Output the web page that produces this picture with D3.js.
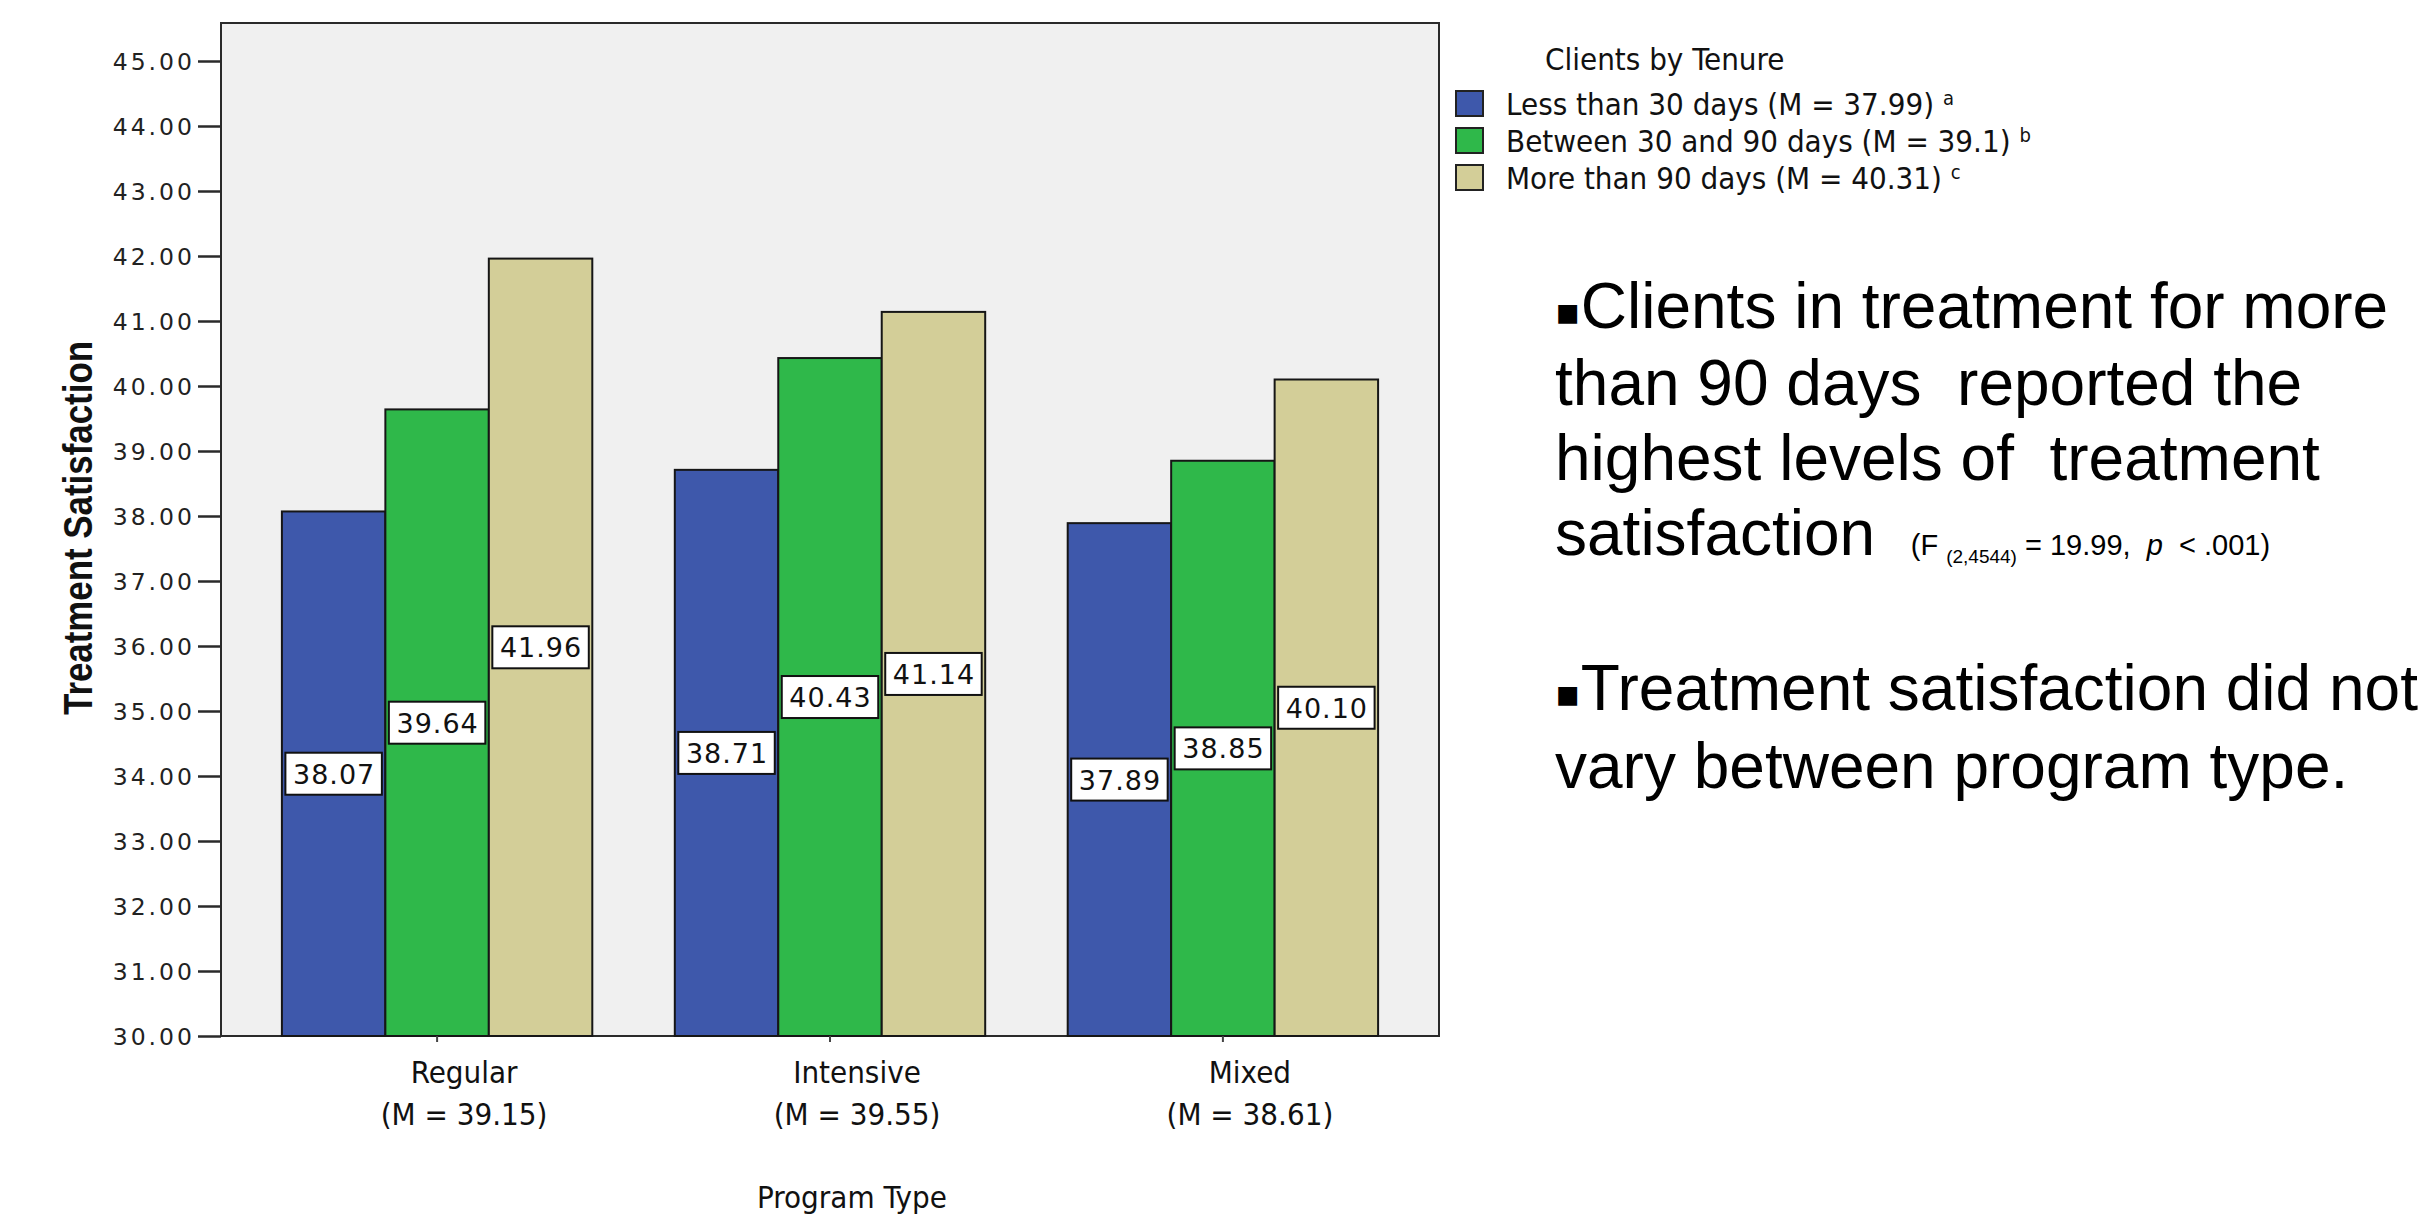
<!DOCTYPE html>
<html>
<head>
<meta charset="utf-8">
<script src="https://cdn.jsdelivr.net/npm/d3@7"></script>
<style>
  html, body { margin: 0; padding: 0; background: #ffffff; }
  svg { display: block; }
  .cond { font-family: "DejaVu Sans Condensed", "DejaVu Sans", sans-serif; font-stretch: condensed; }
</style>
</head>
<body>
<svg id="chart" width="2426" height="1219"></svg>
<script>
// Program types on the x axis, with their overall means
const categories = ["Regular", "Intensive", "Mixed"];
const categoryMeans = ["(M = 39.15)", "(M = 39.55)", "(M = 38.61)"];

// Tenure groups (one bar per group inside each program type)
const seriesKeys = ["lt30", "b30to90", "gt90"];
const seriesNames = ["Less than 30 days (M = 37.99)", "Between 30 and 90 days (M = 39.1)", "More than 90 days (M = 40.31)"];
const seriesMarks = ["a", "b", "c"];
const seriesColors = ["#3e58ab", "#2fb84a", "#d3ce98"];

// Mean treatment satisfaction per program type
const lessThan30 = [38.07, 38.71, 37.89];
const between30and90 = [39.64, 40.43, 38.85];
const moreThan90 = [41.96, 41.14, 40.10];

// Y axis tick values
const yTickValues = [30, 31, 32, 33, 34, 35, 36, 37, 38, 39, 40, 41, 42, 43, 44, 45];

const seriesValues = [lessThan30, between30and90, moreThan90];
const rows = categories.map((c, i) => ({
  category: c,
  mean: categoryMeans[i],
  bars: seriesKeys.map((k, s) => ({ key: k, value: seriesValues[s][i], color: seriesColors[s] }))
}));

const svg = d3.select("#chart");

const plot = { left: 221, right: 1439, top: 23, bottom: 1036 };

const x0 = d3.scaleBand()
  .domain(categories)
  .range([plot.left, plot.right])
  .paddingInner(0.21)
  .paddingOuter(0.155);

const x1 = d3.scaleBand()
  .domain(seriesKeys)
  .range([0, x0.bandwidth()]);

const y = d3.scaleLinear()
  .domain([30, 45])
  .range([plot.bottom, 61]);

// Plot background and frame
svg.append("rect")
  .attr("x", plot.left).attr("y", plot.top)
  .attr("width", plot.right - plot.left).attr("height", plot.bottom - plot.top)
  .attr("fill", "#f0f0f0")
  .attr("stroke", "#2a2a2a").attr("stroke-width", 2);

// Bars
const groups = svg.append("g").selectAll("g")
  .data(rows)
  .join("g")
  .attr("transform", d => `translate(${x0(d.category)},0)`);

groups.selectAll("rect.bar")
  .data(d => d.bars)
  .join("rect")
  .attr("class", "bar")
  .attr("x", d => x1(d.key))
  .attr("y", d => y(d.value))
  .attr("width", x1.bandwidth())
  .attr("height", d => y(30) - y(d.value))
  .attr("fill", d => d.color)
  .attr("stroke", "#161616")
  .attr("stroke-width", 2);

// Value labels, boxed, halfway up each bar
const labelH = 42;
const labelInset = 3.5;
const labels = groups.selectAll("g.vlabel")
  .data(d => d.bars)
  .join("g")
  .attr("class", "vlabel")
  .attr("transform", d => `translate(${x1(d.key) + x1.bandwidth() / 2},${(y(d.value) + y(30)) / 2})`);

labels.append("rect")
  .attr("x", -(x1.bandwidth() / 2 - labelInset))
  .attr("y", -labelH / 2)
  .attr("width", x1.bandwidth() - 2 * labelInset)
  .attr("height", labelH)
  .attr("fill", "#ffffff")
  .attr("stroke", "#111111")
  .attr("stroke-width", 2);

labels.append("text")
  .attr("x", 0.5)
  .attr("y", 10)
  .attr("text-anchor", "middle")
  .attr("font-family", "DejaVu Sans, sans-serif")
  .attr("font-size", 27)
  .attr("letter-spacing", 1)
  .attr("fill", "#111")
  .text(d => d3.format(".2f")(d.value));

// Y axis
const yAxis = svg.append("g")
  .attr("transform", `translate(${plot.left},0)`)
  .call(d3.axisLeft(y).tickValues(yTickValues).tickFormat(d3.format(".2f")).tickSize(23).tickPadding(3));
yAxis.select(".domain").attr("stroke", "#2a2a2a").attr("stroke-width", 2)
  .attr("d", `M0,${plot.top}V${plot.bottom}`);
yAxis.selectAll(".tick line").attr("stroke", "#2a2a2a").attr("stroke-width", 2.5);
yAxis.selectAll(".tick text")
  .attr("font-family", "DejaVu Sans, sans-serif")
  .attr("font-size", 23.5)
  .attr("letter-spacing", 3)
  .attr("fill", "#222")
  .attr("dy", "0.36em");

// X axis category ticks and labels
const labelShift = 27;
const xTicks = svg.append("g").selectAll("g")
  .data(rows)
  .join("g")
  .attr("transform", d => `translate(${x0(d.category) + x0.bandwidth() / 2},${plot.bottom})`);

xTicks.append("line")
  .attr("y1", 0).attr("y2", 6)
  .attr("stroke", "#444").attr("stroke-width", 2);

xTicks.append("text")
  .attr("class", "cond")
  .attr("x", labelShift).attr("y", 47)
  .attr("text-anchor", "middle")
  .attr("font-size", 31)
  .attr("fill", "#111")
  .text(d => d.category);

xTicks.append("text")
  .attr("class", "cond")
  .attr("x", labelShift).attr("y", 89)
  .attr("text-anchor", "middle")
  .attr("font-size", 31)
  .attr("fill", "#111")
  .text(d => d.mean);

// Axis titles
svg.append("text")
  .attr("class", "cond")
  .attr("x", (plot.left + plot.right) / 2 + 22)
  .attr("y", 1208)
  .attr("text-anchor", "middle")
  .attr("font-size", 31)
  .attr("fill", "#111")
  .text("Program Type");

svg.append("text")
  .attr("transform", "translate(92,528) rotate(-90) scale(0.872,1)")
  .attr("text-anchor", "middle")
  .attr("font-family", "Liberation Sans, Arial, sans-serif")
  .attr("font-weight", "bold")
  .attr("font-size", 40)
  .attr("fill", "#111")
  .text("Treatment Satisfaction");

// Legend
const legendPitch = 37;
const legend = svg.append("g").attr("transform", "translate(1455,0)");
legend.append("text")
  .attr("class", "cond")
  .attr("x", 90).attr("y", 70)
  .attr("font-size", 31)
  .attr("fill", "#111")
  .text("Clients by Tenure");

const items = legend.selectAll("g.item")
  .data(seriesNames.map((n, i) => ({ name: n, mark: seriesMarks[i], color: seriesColors[i] })))
  .join("g")
  .attr("class", "item")
  .attr("transform", (d, i) => `translate(0,${i * legendPitch})`);

items.append("rect")
  .attr("x", 1).attr("y", 91)
  .attr("width", 27).attr("height", 25)
  .attr("fill", d => d.color)
  .attr("stroke", "#222").attr("stroke-width", 2);

const itemText = items.append("text")
  .attr("class", "cond")
  .attr("x", 51).attr("y", 115)
  .attr("font-size", 31)
  .attr("fill", "#111");
itemText.append("tspan").text(d => d.name + " ");
itemText.append("tspan")
  .attr("dy", -10)
  .attr("font-size", 20)
  .text(d => d.mark);

// Summary notes
const notes = svg.append("g")
  .attr("font-family", "Liberation Sans, Arial, sans-serif")
  .attr("font-size", 64)
  .attr("fill", "#000");

function noteLine(yPos) {
  return notes.append("text")
    .attr("xml:space", "preserve")
    .attr("x", 1555).attr("y", yPos);
}

function bulletLine(yPos, text) {
  const t = noteLine(yPos);
  t.append("tspan").attr("font-family", "DejaVu Sans, sans-serif").attr("font-size", 38).attr("dy", -4).text("\u25AA");
  t.append("tspan").attr("dy", 4).text(text);
  return t;
}

bulletLine(328, "Clients in treatment for more");
noteLine(405).text("than 90 days  reported the");
noteLine(480).text("highest levels of  treatment");
const stat = noteLine(555);
stat.append("tspan").text("satisfaction  ");
stat.append("tspan").attr("font-size", 29).text("(F ");
stat.append("tspan").attr("font-size", 19).attr("dy", 8).text("(2,4544)");
stat.append("tspan").attr("font-size", 29).attr("dy", -8).text(" = 19.99,  ");
stat.append("tspan").attr("font-size", 29).attr("font-style", "italic").text("p");
stat.append("tspan").attr("font-size", 29).text("  < .001)");

bulletLine(710, "Treatment satisfaction did not");
noteLine(788).text("vary between program type.");
</script>
</body>
</html>
